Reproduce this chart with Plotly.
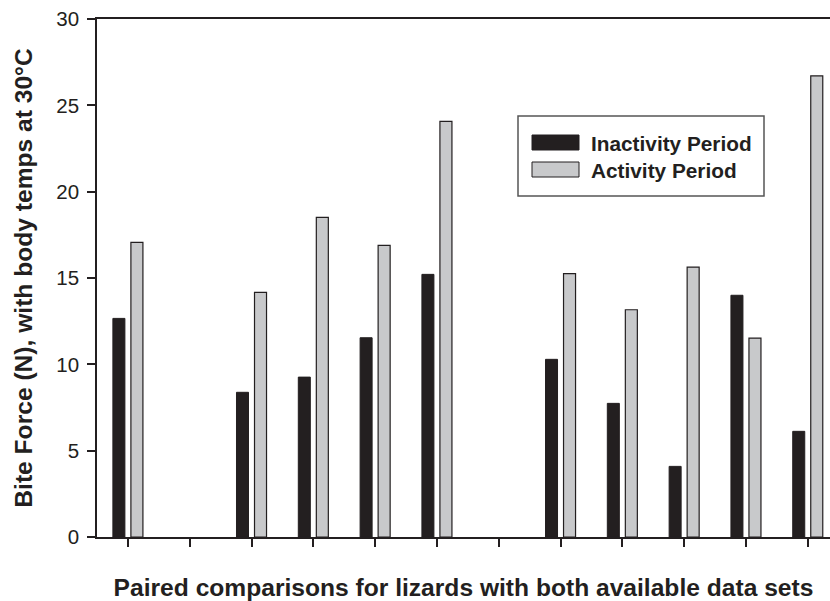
import plotly.graph_objects as go

# ---- data ----
pairs = list(range(1, 13))
series_names = ["Inactivity Period", "Activity Period"]
inactivity = [12.66, None, 8.38, 9.26, 11.54, 15.21, None, 10.29, 7.74, 4.09, 14.00, 6.12]
activity = [17.06, None, 14.17, 18.51, 16.89, 24.07, None, 15.25, 13.16, 15.63, 11.52, 26.71]
y_ticks = [0, 5, 10, 15, 20, 25, 30]

DARK = "#231f20"
GRAY = "#c8c9cb"
FONT = "Liberation Sans, Arial, sans-serif"

W, H = 830, 601
ML, MR, MT, MB = 97, 0, 19, 64
PW, PH = W - ML - MR, H - MT - MB


def px(x):
    return (x - ML) / PW


def py(y):
    return (H - MB - y) / PH


fig = go.Figure()
fig.add_trace(go.Bar(x=pairs, y=inactivity, name=series_names[0],
                     marker=dict(color=DARK, line=dict(color=DARK, width=1)),
                     showlegend=False))
fig.add_trace(go.Bar(x=pairs, y=activity, name=series_names[1],
                     marker=dict(color=GRAY, line=dict(color=DARK, width=1.2)),
                     showlegend=False))

# manual legend (wide swatches like the original)
shapes = [
    dict(type="rect", xref="paper", yref="paper", x0=px(518), x1=px(764), y0=py(196), y1=py(116),
         line=dict(color="#555555", width=1.5), fillcolor="white", layer="above"),
    dict(type="rect", xref="paper", yref="paper", x0=px(532), x1=px(579), y0=py(150), y1=py(135),
         line=dict(color=DARK, width=1), fillcolor=DARK, layer="above"),
    dict(type="rect", xref="paper", yref="paper", x0=px(532), x1=px(579), y0=py(177), y1=py(162),
         line=dict(color=DARK, width=1), fillcolor=GRAY, layer="above"),
]
annotations = [
    dict(xref="paper", yref="paper", x=px(589), y=py(143), text="<b>%s</b>" % series_names[0],
         showarrow=False, xanchor="left", yanchor="middle",
         font=dict(family=FONT, size=20.8, color=DARK)),
    dict(xref="paper", yref="paper", x=px(589), y=py(170), text="<b>%s</b>" % series_names[1],
         showarrow=False, xanchor="left", yanchor="middle",
         font=dict(family=FONT, size=20.8, color=DARK)),
]

fig.update_layout(
    width=W, height=H,
    margin=dict(l=ML, r=MR, t=MT, b=MB, pad=0),
    paper_bgcolor="white", plot_bgcolor="white",
    barmode="group", bargap=0.417, bargroupgap=0.333,
    font=dict(family=FONT, color=DARK),
    shapes=shapes, annotations=annotations,
    xaxis=dict(
        range=[0.5, 12.36], tickmode="array", tickvals=pairs, showticklabels=False,
        ticks="outside", ticklen=8, tickwidth=1.5, tickcolor=DARK,
        showline=True, linecolor=DARK, linewidth=2, mirror=True,
        showgrid=False, zeroline=False,
        title=dict(text="<b>Paired comparisons for lizards with both available data sets</b>",
                   font=dict(family=FONT, size=24.6, color=DARK), standoff=36),
    ),
    yaxis=dict(
        range=[0, 30], tickmode="array", tickvals=y_ticks,
        ticks="outside", ticklen=8, tickwidth=1.5, tickcolor=DARK,
        tickfont=dict(family=FONT, size=20.5, color=DARK),
        ticklabelstandoff=4,
        showline=True, linecolor=DARK, linewidth=1.5,
        showgrid=False, zeroline=False,
        title=dict(text="<b>Bite Force (N), with body temps at 30°C</b>",
                   font=dict(family=FONT, size=24.6, color=DARK), standoff=17),
    ),
)

fig.write_html("out.html")
